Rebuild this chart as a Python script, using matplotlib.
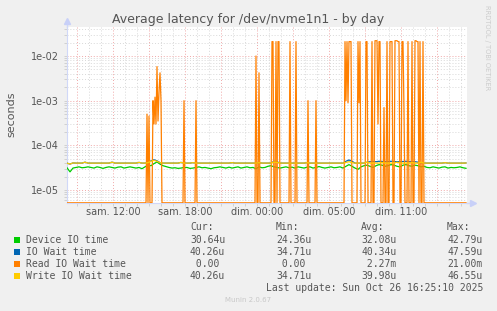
import numpy as np
import matplotlib.pyplot as plt
from matplotlib.ticker import FixedLocator, FixedFormatter, NullFormatter

W, H = 497, 311

# time axis: hours since sam. 00:00, graph starts at sam. 08:10
t_start = 8 + 10 / 60.0
n_slots = 400  # 5 minute slots

tick_hours = [12, 18, 24, 30, 36]
tick_labels = ["sam. 12:00", "sam. 18:00", "dim. 00:00", "dim. 05:00", "dim. 11:00"]

# 15 minute samples, microseconds
device_us = [
    31.5, 25.5, 31, 32, 33, 31.5, 32, 33, 32, 31, 33, 32, 30.5, 32, 33, 32, 31, 32.5, 33, 31, 32, 33, 32, 31, 32, 30,
    33, 36, 35, 39, 42.5, 38, 35, 33.5,
    32, 31, 31.5, 30.5, 31, 32, 32, 30.5, 31, 32, 33, 31.5, 32, 31, 30, 31.5, 32, 33, 32, 31, 32.5, 31, 32, 33, 31,
    32, 33, 31.5, 32,
    30, 33, 31.5, 32, 34, 35, 33, 32, 31, 32, 33, 31.5, 32.5, 31, 33, 32, 31, 32.5, 33, 31, 32, 33.5, 32, 31, 32, 33,
    31.5, 32, 33, 31,
    34, 37, 34, 31, 29, 33, 35, 36, 34, 32, 35, 37, 36, 34, 35, 37, 36, 34, 33, 36, 37, 35, 34, 36, 35, 33, 34,
    32, 31.5, 33, 32, 31, 32.5, 33, 31, 32, 31.5, 32, 33, 31.5, 30.6,
]
write_us = [
    40, 38, 40.5, 40, 40, 40, 42, 40, 40, 40, 40, 40, 40, 40, 40, 42, 40, 40, 40, 40, 40, 40, 40, 40, 41.5, 40,
    40, 41, 44, 46, 44, 41, 40, 40,
    40, 40, 40, 40, 41.5, 40, 40, 40, 41, 40, 40, 40, 40, 40, 40, 40, 40, 40, 40, 40, 40, 41, 40, 40, 40,
    40, 40, 40, 40,
    40, 41, 40, 40, 40, 40, 42.5, 41.5, 40, 40, 40, 40, 40, 40, 40, 40, 40, 41, 40, 40, 40, 40, 40, 40, 40, 40,
    40, 40, 40, 40,
    41.5, 43, 41, 40, 40, 40, 40, 42, 40, 40, 40, 40, 41.5, 40, 40, 40, 40, 42, 40, 40, 40, 40, 41, 40, 40, 42, 40,
    40, 40, 40, 40, 40, 40, 41, 40, 40, 40, 40, 40, 40, 40.3,
]
iowait_us = [
    40, 38, 40.5, 40, 40, 40, 42, 40, 40, 40, 40, 40, 40, 40, 40, 42, 40, 40, 40, 40, 40, 40, 40, 40, 41.5, 40,
    40, 41, 45, 47.5, 45, 41, 40, 40,
    40, 40, 40, 40, 41.5, 40, 40, 40, 41, 40, 40, 40, 40, 40, 40, 40, 40, 40, 40, 40, 40, 41, 40, 40, 40,
    40, 40, 40, 40,
    40, 41, 40, 40, 40, 40, 44, 43, 40, 40, 40, 40, 40, 40, 40, 40, 40, 41, 40, 40, 40, 40, 40, 40, 40, 40,
    40, 40, 40, 40,
    44, 47, 44, 40, 40, 40, 40, 42, 43, 43.5, 43, 44, 43.5, 43, 43, 44, 43.5, 43, 43, 43.5, 44, 43, 43, 43, 42,
    41, 40,
    40, 40, 40, 40, 40, 40, 41, 40, 40, 40, 40, 40, 40, 40.3,
]

# read IO wait: 5 minute slots with non zero values (seconds), rest is 0
read_slot = [80, 82, 86, 87, 88, 89, 90, 91, 92, 93, 94,
             117, 129, 189, 192, 205, 206, 209, 211, 212, 223, 229, 241, 249,
             278, 279, 280, 281, 282, 283, 284, 291, 292, 293, 299, 300,
             305, 308, 309, 310, 311, 312, 313, 317, 320, 323, 324, 325,
             328, 329, 330, 331, 332, 335, 336, 337, 341, 345, 348, 349, 350, 351, 353, 356]
read_val = [5.0e-4, 4.5e-4, 1.0e-3, 3e-4, 1.2e-3, 3e-4, 5.8e-3, 3.5e-4, 1.5e-3, 4.2e-3, 1.0e-3,
            1.0e-3, 1.0e-3, 1.0e-2, 4.2e-3, 2.1e-2, 2.1e-2, 2.1e-2, 2.1e-2, 2.1e-2, 2.1e-2, 2.1e-2, 1.0e-3, 1.0e-3,
            2.1e-2, 1.0e-3, 2.1e-2, 9e-4, 2.1e-2, 2.1e-2, 2.1e-2, 2.1e-2, 9e-4, 2.1e-2, 2.1e-2, 2.1e-2,
            2.1e-2, 2.2e-2, 2.2e-2, 2.2e-2, 3e-4, 2.1e-2, 2.1e-2, 7e-4, 2.1e-2, 2.1e-2, 2.1e-2, 2.1e-2,
            2.2e-2, 2.2e-2, 2.2e-2, 2.1e-2, 2.1e-2, 2.1e-2, 2.1e-2, 6e-4, 2.1e-2, 2.1e-2, 2.2e-2, 2.2e-2,
            2.1e-2, 2.1e-2, 2.1e-2, 2.1e-2]

legend_names = ["Device IO time", "IO Wait time", "Read IO Wait time", "Write IO Wait time"]
legend_colors = ["#00CC00", "#0066B3", "#FF8000", "#FFCC00"]
stat_cur = ["30.64u", "40.26u", " 0.00 ", "40.26u"]
stat_min = ["24.36u", "34.71u", " 0.00 ", "34.71u"]
stat_avg = ["32.08u", "40.34u", " 2.27m", "39.98u"]
stat_max = ["42.79u", "47.59u", "21.00m", "46.55u"]

y_lo, y_hi = 5.12e-6, 0.0446


def fx(px):
    return px / W


def fy(py):
    return 1 - py / H


def main():
    fig = plt.figure(figsize=(W / 100, H / 100), dpi=100, facecolor="#F0F0F0")
    ax = fig.add_axes([fx(67), fy(203), 400 / W, 176 / H])
    ax.set_facecolor("white")

    t15 = t_start + 0.25 * np.arange(len(device_us))
    t5 = t_start + np.arange(n_slots) / 12.0
    read = np.zeros(n_slots)
    read[read_slot] = read_val
    read_plot = np.where(read > 0, read, y_lo * 1.01)

    lw = 0.9
    ax.plot(t15, np.array(device_us) * 1e-6, color=legend_colors[0], lw=lw, zorder=3)
    ax.plot(t15, np.array(iowait_us) * 1e-6, color=legend_colors[1], lw=lw, zorder=4)
    ax.plot(t5, read_plot, color=legend_colors[2], lw=lw, zorder=5)
    ax.plot(t15, np.array(write_us) * 1e-6, color=legend_colors[3], lw=lw, zorder=6)

    ax.set_yscale("log")
    ax.set_ylim(y_lo, y_hi)
    ax.set_xlim(t_start, t_start + n_slots / 12.0)

    ax.yaxis.set_major_locator(FixedLocator([1e-5, 1e-4, 1e-3, 1e-2]))
    ax.yaxis.set_major_formatter(FixedFormatter(["1e-05", "1e-04", "1e-03", "1e-02"]))
    minors = [m * 10.0 ** e for e in range(-6, -1) for m in range(2, 10)]
    ax.yaxis.set_minor_locator(FixedLocator(minors))
    ax.yaxis.set_minor_formatter(NullFormatter())

    major_x = list(range(9, 42, 3))
    ax.xaxis.set_major_locator(FixedLocator(major_x))
    ax.xaxis.set_major_formatter(NullFormatter())
    ax.xaxis.set_minor_locator(FixedLocator([h for h in range(9, 42) if h not in major_x]))
    ax.xaxis.set_minor_formatter(NullFormatter())
    for h, lab in zip(tick_hours, tick_labels):
        ax.text(h, -0.05, lab, transform=ax.get_xaxis_transform(), ha="center", va="center",
                fontsize=7, color="#555555")

    ax.grid(True, which="minor", color="#D8D8D8", lw=0.7, ls=(0, (1, 2)), zorder=1)
    ax.grid(True, which="major", color="#F0A8A8", lw=0.7, ls=(0, (1, 2)), zorder=2)
    ax.tick_params(which="both", length=2, width=0.6, color="#CCCCCC", labelsize=7,
                   labelcolor="#555555", pad=4)
    ax.tick_params(axis="x", which="both", length=2)

    for s in ["top", "right"]:
        ax.spines[s].set_visible(False)
    ax.spines["left"].set_color("#D0D8F8")
    ax.spines["bottom"].set_color("#D0D8F8")
    # axis arrows
    ax.plot([0, 0], [1, 1.035], transform=ax.transAxes, color="#D0D8F8", lw=1, clip_on=False)
    ax.plot([0], [1.035], transform=ax.transAxes, marker="^", ms=4, color="#C8D0F8", clip_on=False)
    ax.plot([1, 1.015], [0, 0], transform=ax.transAxes, color="#D0D8F8", lw=1, clip_on=False)
    ax.plot([1.015], [0], transform=ax.transAxes, marker=">", ms=4, color="#C8D0F8", clip_on=False)

    fig.text(fx(248), fy(19), "Average latency for /dev/nvme1n1 - by day", ha="center", va="center",
             fontsize=9, color="#555555")
    fig.text(fx(11), fy(114.5), "seconds", rotation=90, ha="center", va="center",
             fontsize=8, color="#555555")
    fig.text(fx(487), fy(5), "RRDTOOL / TOBI OETIKER", rotation=270, ha="center", va="top",
             fontsize=4.8, color="#CCCCCC")

    mono = "DejaVu Sans Mono"
    cols = [190, 276, 361, 447]
    for x, head in zip(cols, ["Cur:", "Min:", "Avg:", "Max:"]):
        fig.text(fx(x), fy(227.5), head, ha="left", va="center", family=mono, fontsize=7, color="#555555")
    rows_y = [240, 252, 264, 276]
    for i, name in enumerate(legend_names):
        y = rows_y[i]
        fig.patches.append(plt.Rectangle((fx(14), fy(y + 3)), 6 / W, 6 / H, transform=fig.transFigure,
                                         facecolor=legend_colors[i], edgecolor="none"))
        fig.text(fx(26), fy(y), name, ha="left", va="center", family=mono, fontsize=7, color="#555555")
        for x, vals in zip(cols, [stat_cur, stat_min, stat_avg, stat_max]):
            fig.text(fx(x), fy(y), vals[i], ha="left", va="center", family=mono, fontsize=7, color="#555555")
    fig.text(fx(483), fy(288), "Last update: Sun Oct 26 16:25:10 2025", ha="right", va="center",
             family=mono, fontsize=7, color="#555555")
    fig.text(fx(248), fy(300.5), "Munin 2.0.67", ha="center", va="center", fontsize=5, color="#C8C8C8")

    fig.savefig("out.png", dpi=100, facecolor=fig.get_facecolor())


if __name__ == "__main__":
    main()
